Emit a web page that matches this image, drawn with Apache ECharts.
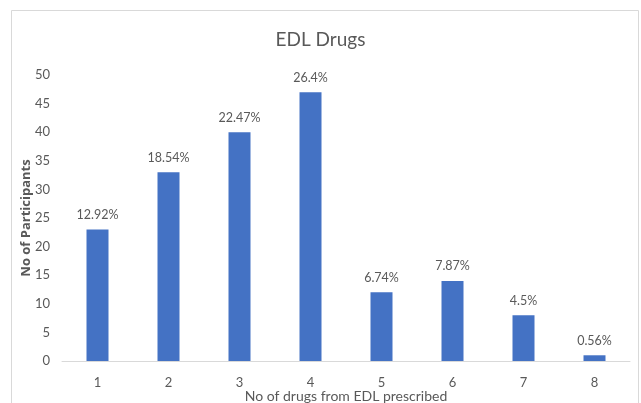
<!DOCTYPE html>
<html>
<head>
<meta charset="utf-8">
<script src="https://cdn.jsdelivr.net/npm/echarts@6/dist/echarts.min.js"></script>
<style>html,body{margin:0;padding:0;background:#fff;overflow:hidden}#c{width:641px;height:403px}</style>
</head>
<body>
<div id="c"></div>
<script>
var categories = ['1','2','3','4','5','6','7','8'];
var participants = [23, 33, 40, 47, 12, 14, 8, 1];
var percentLabels = ['12.92%','18.54%','22.47%','26.4%','6.74%','7.87%','4.5%','0.56%'];
var yTicks = [0, 5, 10, 15, 20, 25, 30, 35, 40, 45, 50];

var narrow = 'Lato, "Open Sans", sans-serif';
var chart = echarts.init(document.getElementById('c'), null, {renderer: 'canvas'});
chart.setOption({
  animation: false,
  backgroundColor: '#fff',
  graphic: [{
    type: 'rect', silent: true,
    shape: {x: 11.5, y: 10.5, width: 627, height: 420},
    style: {fill: 'none', stroke: '#d9d9d9', lineWidth: 1}
  }],
  title: {
    text: 'EDL Drugs', left: 'center', top: 25,
    textStyle: {fontFamily: narrow, fontSize: 19, fontWeight: 'normal', color: '#595959'}
  },
  grid: {left: 62, right: 11, top: 75, bottom: 42, containLabel: false, outerBoundsMode: 'none'},
  xAxis: {
    type: 'category', data: categories,
    name: 'No of drugs from EDL prescribed', nameLocation: 'middle', nameGap: 28,
    nameMoveOverlap: false,
    nameTextStyle: {fontFamily: narrow, fontSize: 14, color: '#595959'},
    axisLine: {lineStyle: {color: '#d9d9d9'}},
    axisTick: {show: false},
    axisLabel: {fontFamily: narrow, fontSize: 13, color: '#595959', margin: 15}
  },
  yAxis: {
    type: 'value', min: yTicks[0], max: yTicks[yTicks.length - 1], interval: 5,
    name: 'No of Participants', nameLocation: 'middle', nameGap: 29.5,
    nameMoveOverlap: false,
    nameTextStyle: {fontFamily: '"Open Sans", sans-serif', fontSize: 13, fontWeight: 'bold', color: '#595959'},
    axisLine: {show: false}, axisTick: {show: false},
    splitLine: {show: false},
    axisLabel: {fontFamily: narrow, fontSize: 13, color: '#595959', margin: 12}
  },
  series: [{
    type: 'bar', data: participants, barWidth: 22,
    itemStyle: {color: '#4472C4'},
    label: {
      show: true, position: 'top', distance: 8,
      fontFamily: narrow, fontSize: 12.5, color: '#595959',
      formatter: function (p) { return percentLabels[p.dataIndex]; }
    }
  }]
});
</script>
</body>
</html>
